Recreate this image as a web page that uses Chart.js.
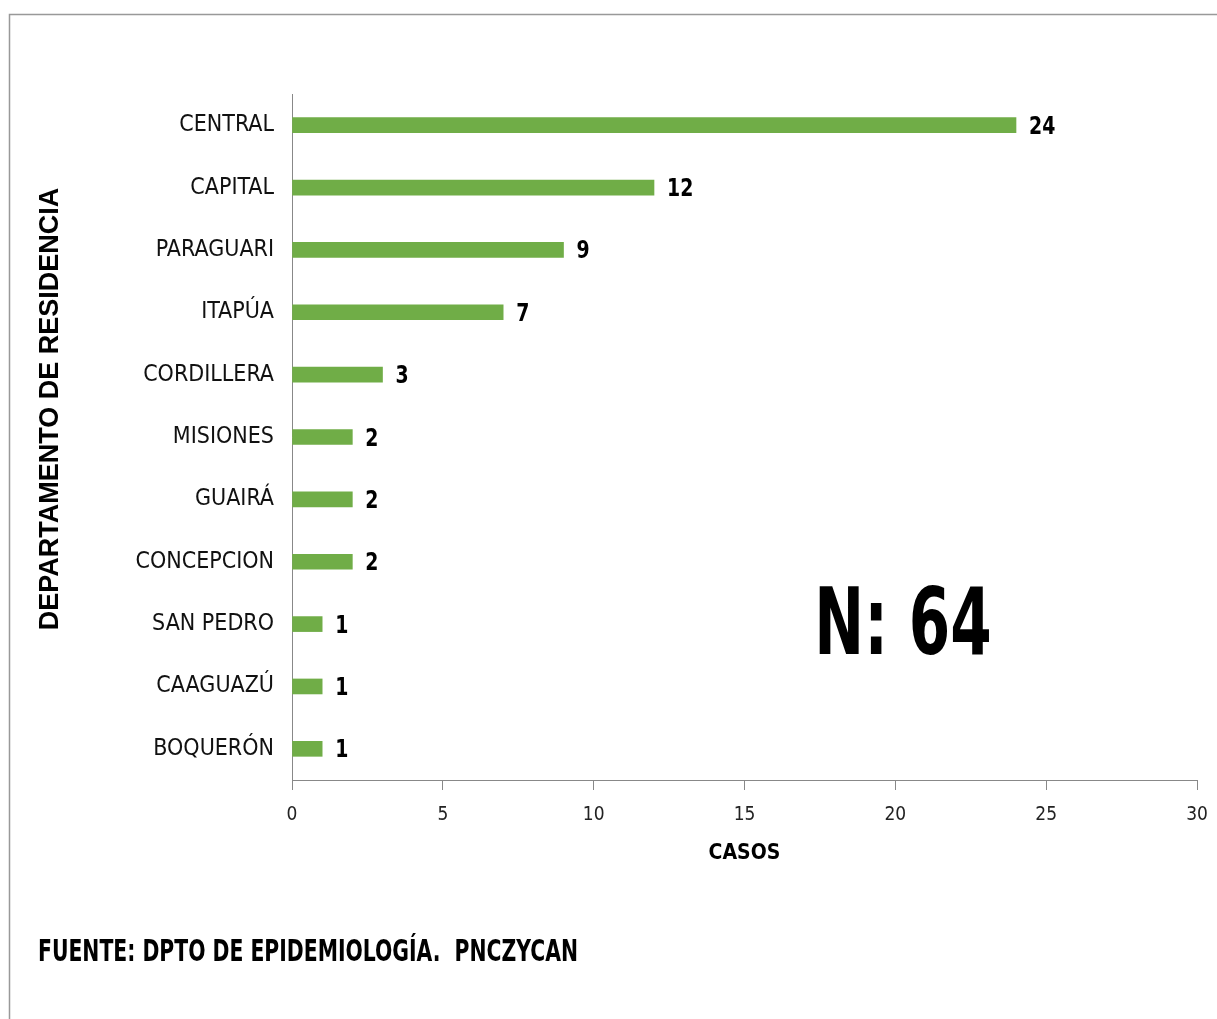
<!DOCTYPE html>
<html><head><meta charset="utf-8">
<script src="https://cdn.jsdelivr.net/npm/chart.js@4"></script>
<style>html,body{margin:0;padding:0;background:#fff;}#wrap{position:relative;width:1217px;height:1019px;}</style>
</head><body><div id="wrap"><canvas id="c" width="1217" height="1019"></canvas></div>
<script>
const categories = ["CENTRAL","CAPITAL","PARAGUARI","ITAPÚA","CORDILLERA","MISIONES","GUAIRÁ","CONCEPCION","SAN PEDRO","CAAGUAZÚ","BOQUERÓN"];
const casos = [24,12,9,7,3,2,2,2,1,1,1];
const xTicks = [0,5,10,15,20,25,30];
const yTitle = "DEPARTAMENTO DE RESIDENCIA";
const xTitle = "CASOS";
const totalLabel = "N: 64";
const footer = "FUENTE: DPTO DE EPIDEMIOLOGÍA.  PNCZYCAN";

const NARROW = '"Liberation Sans Narrow","Arial Narrow","DejaVu Sans Condensed",sans-serif';

function squeezedText(ctx, text, x, y, sx, align){
  ctx.save();
  ctx.translate(x, y);
  ctx.scale(sx, 1);
  ctx.textAlign = align;
  ctx.fillText(text, 0, 0);
  ctx.restore();
}

const decor = {
  id:'decor',
  beforeDraw(chart){
    const ctx = chart.ctx;
    ctx.save();
    ctx.fillStyle='#fff'; ctx.fillRect(0,0,chart.width,chart.height);
    ctx.strokeStyle='#999'; ctx.lineWidth=1.5;
    ctx.beginPath(); ctx.moveTo(9.5,1019); ctx.lineTo(9.5,14.5); ctx.lineTo(1217,14.5); ctx.stroke();
    ctx.restore();
  },
  afterDatasetsDraw(chart){
    const ctx = chart.ctx;
    ctx.save();
    const meta = chart.getDatasetMeta(0);
    ctx.fillStyle='#000';
    ctx.font='bold 25px '+NARROW;
    ctx.textBaseline='middle';
    meta.data.forEach((bar,i)=>{
      squeezedText(ctx, String(casos[i]), bar.x+13, bar.y+2, 0.84, 'left');
    });
    ctx.font='bold 92px '+NARROW;
    squeezedText(ctx, totalLabel, 903, 630, 0.72, 'center');
    ctx.font='bold 31px '+NARROW;
    squeezedText(ctx, footer, 38, 953, 0.73, 'left');
    // y axis title
    ctx.save();
    ctx.translate(51, 409);
    ctx.rotate(-Math.PI/2);
    ctx.font='bold 27px "Liberation Sans",Arial,sans-serif';
    ctx.textAlign='center';
    ctx.fillText(yTitle, 0, 0);
    ctx.restore();
    ctx.restore();
  }
};

new Chart(document.getElementById('c'), {
  type:'bar',
  data:{ labels:categories, datasets:[{ data:casos, backgroundColor:'#70AD47', barThickness:15 }]},
  options:{
    indexAxis:'y', responsive:false, animation:false,
    layout:{ padding:{ left:36, top:94, right:20, bottom:139 } },
    plugins:{ legend:{display:false}, tooltip:{enabled:false} },
    scales:{
      x:{ min:0, max:30,
        afterBuildTicks(s){ s.ticks = xTicks.map(v=>({value:v})); },
        afterFit(s){ s.height = 100; s.paddingRight = 0; s.paddingLeft = 0; },
        grid:{ drawOnChartArea:false, drawTicks:true, tickLength:10, color:'#888' },
        border:{ display:true, color:'#888', width:1 },
        ticks:{ color:'#222', font:{ size:19, family:NARROW }, padding:14 },
        title:{ display:true, text:xTitle, color:'#000', font:{ size:21, weight:'bold', family:NARROW }, padding:{top:0,bottom:14} }
      },
      y:{
        afterFit(s){ s.width = 256; s.paddingTop = 0; s.paddingBottom = 0; },
        grid:{ display:false },
        border:{ display:true, color:'#888', width:1 },
        ticks:{ color:'#111', font:{ size:23, family:NARROW }, padding:10 },
        title:{ display:false }
      }
    }
  },
  plugins:[decor]
});
</script></body></html>
